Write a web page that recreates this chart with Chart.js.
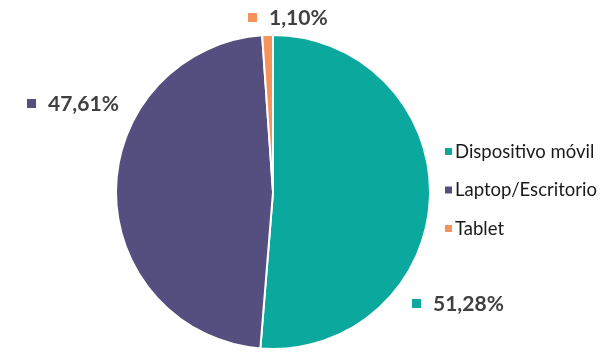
<!DOCTYPE html>
<html lang="es">
<head>
<meta charset="UTF-8">
<title>Dispositivos</title>
<script src="https://cdn.jsdelivr.net/npm/chart.js"></script>
<style>
  html, body { margin: 0; padding: 0; background: #fff; }
  #wrap { width: 610px; height: 353px; }
</style>
</head>
<body>
<div id="wrap"><canvas id="pie" width="610" height="353"></canvas></div>
<script>
  // datos
  var categorias = ['Dispositivo móvil', 'Laptop/Escritorio', 'Tablet'];
  var valores = [51.28, 47.61, 1.10];
  var etiquetas = ['51,28%', '47,61%', '1,10%'];
  var colores = ['#0AA89D', '#544F7E', '#F4935B'];

  // donde va cada etiqueta de porcentaje (caja: cuadrado + texto)
  var posEtiquetas = [
    { x: 412, y: 303 },
    { x: 27, y: 103 },
    { x: 248, y: 17 }
  ];

  var etiquetasPlugin = {
    id: 'etiquetas',
    afterDraw: function (chart) {
      var ctx = chart.ctx;
      ctx.save();
      ctx.textBaseline = 'middle';
      ctx.textAlign = 'left';

      // porcentajes
      ctx.font = 'bold 21px Lato, "Open Sans", sans-serif';
      etiquetas.forEach(function (t, i) {
        var p = posEtiquetas[i];
        ctx.fillStyle = colores[i];
        ctx.fillRect(p.x, p.y - 4, 9, 9);
        ctx.fillStyle = '#404040';
        ctx.fillText(t, p.x + 21, p.y + 1);
      });

      // leyenda
      ctx.font = '18.5px Lato, "Open Sans", sans-serif';
      categorias.forEach(function (c, i) {
        var y = 151 + i * 38.5;
        ctx.fillStyle = colores[i];
        ctx.fillRect(445, y - 3, 7, 7);
        ctx.fillStyle = '#1a1a1a';
        ctx.fillText(c, 455, y + 1);
      });
      ctx.restore();
    }
  };

  new Chart(document.getElementById('pie'), {
    type: 'pie',
    data: {
      labels: categorias,
      datasets: [{
        data: valores,
        backgroundColor: colores,
        borderColor: '#ffffff',
        borderWidth: 2
      }]
    },
    options: {
      responsive: false,
      animation: false,
      layout: { padding: { top: 34, bottom: 3, left: 115, right: 179 } },
      plugins: {
        legend: { display: false },
        tooltip: { enabled: false }
      }
    },
    plugins: [etiquetasPlugin]
  });
</script>
</body>
</html>
